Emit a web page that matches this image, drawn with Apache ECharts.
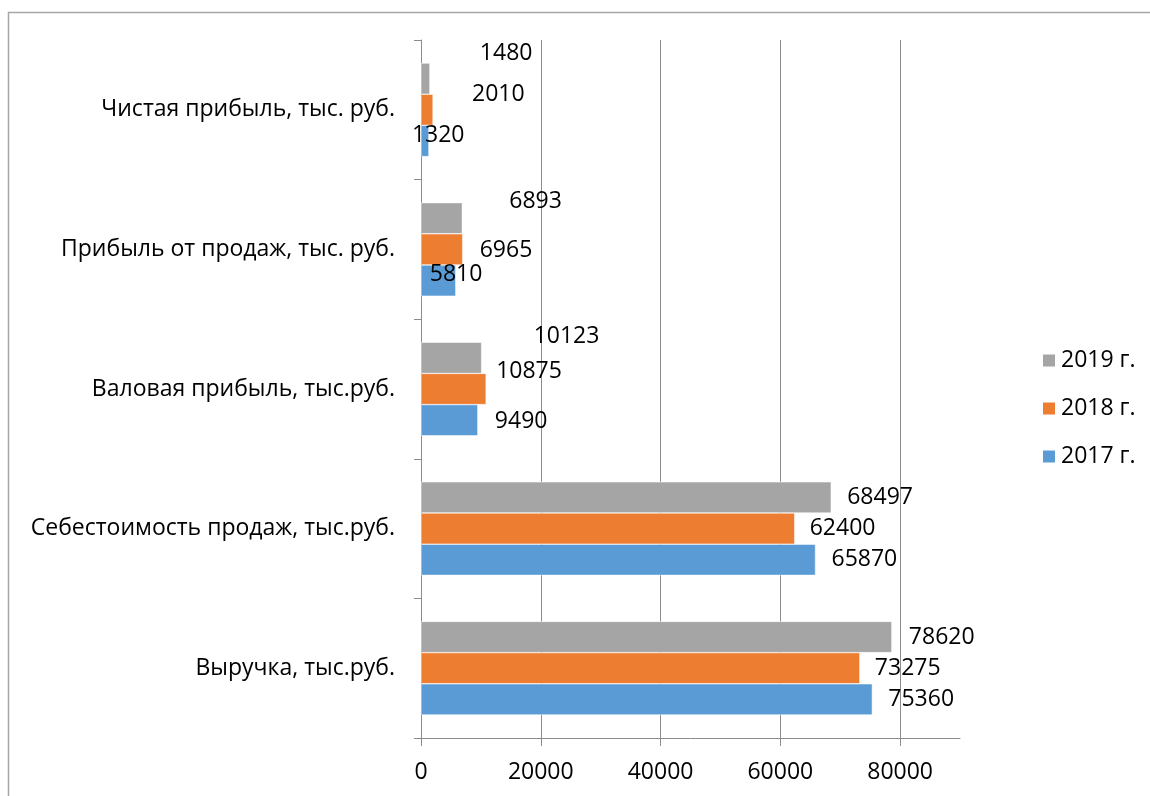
<!DOCTYPE html>
<html>
<head>
<meta charset="utf-8">
<script src="https://cdn.jsdelivr.net/npm/echarts@6/dist/echarts.min.js"></script>
<style>
  html, body { margin: 0; padding: 0; background: #fff; }
  #chart { width: 1150px; height: 796px; }
</style>
</head>
<body>
<div id="chart"></div>
<script>
  // данные
  var categories = ['Выручка, тыс.руб.', 'Себестоимость продаж, тыс.руб.', 'Валовая прибыль, тыс.руб.',
    'Прибыль от продаж, тыс. руб.', 'Чистая прибыль, тыс. руб.'];
  var seriesNames = ['2017 г.', '2018 г.', '2019 г.'];
  var values2017 = [75360, 65870, 9490, 5810, 1320];
  var values2018 = [73275, 62400, 10875, 6965, 2010];
  var values2019 = [78620, 68497, 10123, 6893, 1480];
  var xTicks = [0, 20000, 40000, 60000, 80000];

  // смещения подписей (как в Excel)
  var offsets2017 = [[1, 0], [1, 0], [2, 1], [-41, -6], [-32, -6]];
  var offsets2018 = [[0, 0], [0, 0], [-5, -18], [2, 1], [24, -15]];
  var offsets2019 = [[2, 0], [1, 0], [37, -21], [32, -17], [35, -25]];

  var font = 'Open Sans';
  var colors = ['#5B9BD5', '#ED7D31', '#A5A5A5'];

  function withOffsets(values, offs) {
    return values.map(function (v, i) {
      return { value: v, label: { offset: offs[i] } };
    });
  }

  function makeSeries(name, values, offs, color) {
    return {
      name: name,
      type: 'bar',
      barGap: 0,
      barCategoryGap: '33%',
      itemStyle: { color: color, borderColor: '#fff', borderWidth: 0.5 },
      label: {
        show: true,
        position: 'right',
        distance: 15,
        color: '#000',
        fontFamily: font,
        fontSize: 23
      },
      data: withOffsets(values, offs)
    };
  }

  var chart = echarts.init(document.getElementById('chart'));
  chart.setOption({
    animation: false,
    color: colors,
    graphic: [{
      type: 'rect',
      shape: { x: 8.5, y: 12.5, width: 1200, height: 1000 },
      style: { fill: 'none', stroke: '#a6a6a6', lineWidth: 1.5 },
      silent: true
    }],
    grid: { left: 421, right: 190, top: 40, bottom: 58 },
    legend: {
      orient: 'vertical',
      left: 1036,
      top: 344,
      itemWidth: 14,
      itemHeight: 14,
      itemGap: 25,
      icon: 'rect',
      data: ['2019 г.', '2018 г.', '2017 г.'],
      textStyle: { fontFamily: font, fontSize: 23, color: '#000' }
    },
    xAxis: {
      type: 'value',
      min: 0,
      max: 90000,
      interval: 20000,
      axisLine: { show: true, lineStyle: { color: '#8c8c8c', width: 1 } },
      axisTick: { show: true, length: 8, customValues: xTicks, lineStyle: { color: '#8c8c8c' } },
      axisLabel: {
        customValues: xTicks,
        formatter: function (v) { return String(v); },
        margin: 23,
        color: '#000',
        fontFamily: font,
        fontSize: 23
      },
      splitLine: {
        show: true,
        lineStyle: { color: ['#8c8c8c', '#8c8c8c', '#8c8c8c', '#8c8c8c', '#8c8c8c', 'rgba(0,0,0,0)'], width: 1 }
      }
    },
    yAxis: {
      type: 'category',
      data: categories,
      axisLine: { show: true, lineStyle: { color: '#8c8c8c', width: 1 } },
      axisTick: { show: true, length: 7, lineStyle: { color: '#8c8c8c' } },
      axisLabel: {
        margin: 26,
        color: '#000',
        fontFamily: font,
        fontSize: 23
      }
    },
    // в ECharts первая серия рисуется сверху, поэтому 2019 идёт первой
    series: [
      makeSeries(seriesNames[2], values2019, offsets2019, colors[2]),
      makeSeries(seriesNames[1], values2018, offsets2018, colors[1]),
      makeSeries(seriesNames[0], values2017, offsets2017, colors[0])
    ]
  });
</script>
</body>
</html>
